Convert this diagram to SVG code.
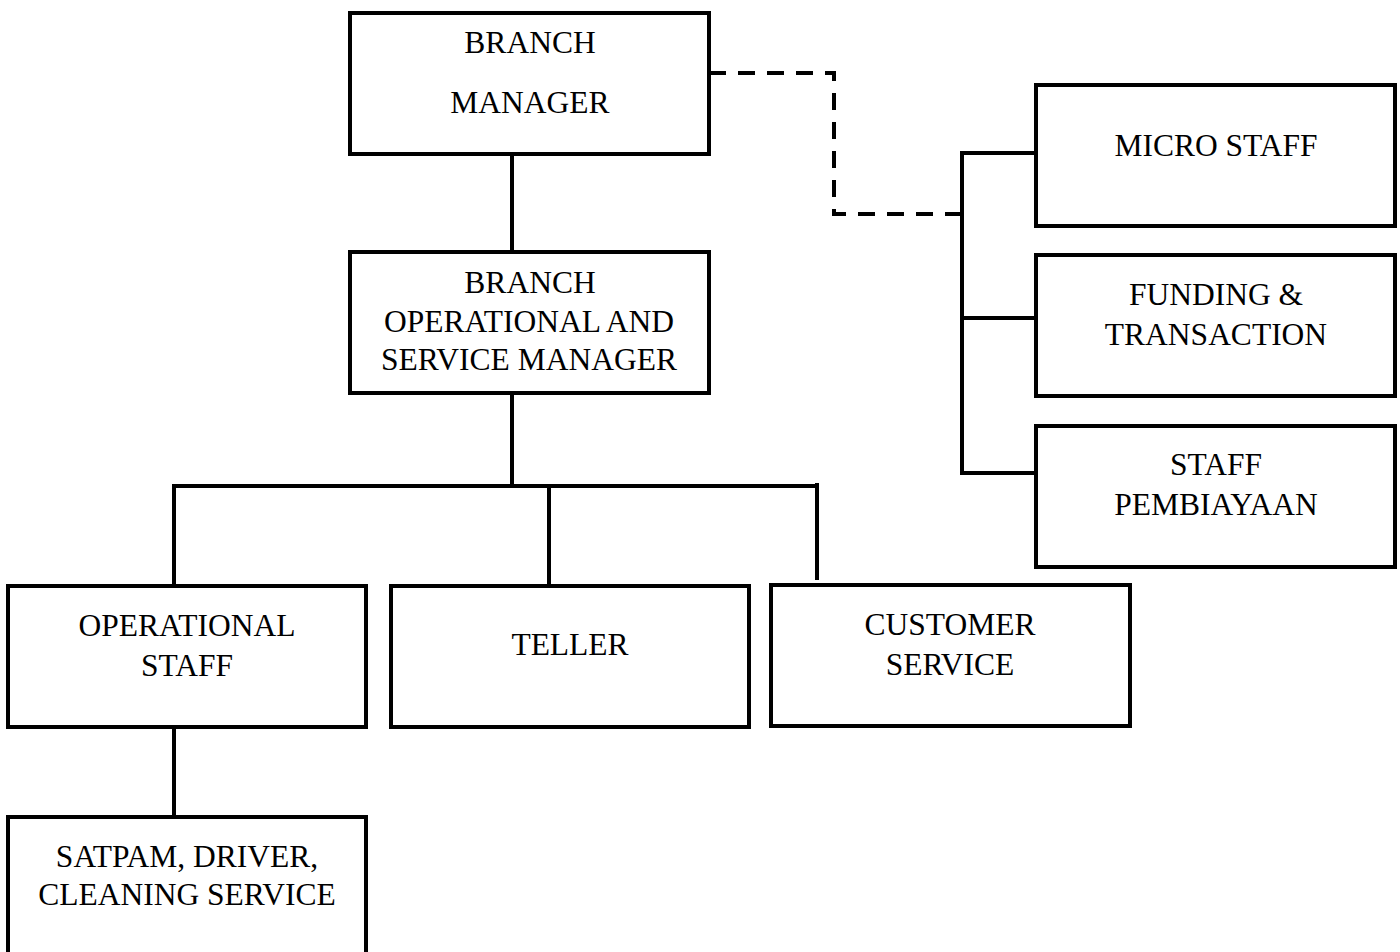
<svg xmlns="http://www.w3.org/2000/svg" width="1400" height="952" viewBox="0 0 1400 952">
<style>
.box{fill:#fff;stroke:#000;stroke-width:4}
.ln{fill:none;stroke:#000;stroke-width:4}
.dash{fill:none;stroke:#000;stroke-width:4;stroke-dasharray:17 12}
text{font-family:"Liberation Serif","Times New Roman",serif;font-size:31.5px;fill:#000;text-anchor:middle}
</style>
<rect width="1400" height="952" fill="#fff"/>
<g id="connectors">
<line class="ln" x1="512" y1="154" x2="512" y2="252"/>
<line class="ln" x1="512" y1="393" x2="512" y2="486"/>
<line class="ln" x1="172" y1="486" x2="819" y2="486"/>
<line class="ln" x1="174" y1="486" x2="174" y2="586"/>
<line class="ln" x1="549" y1="486" x2="549" y2="586"/>
<line class="ln" x1="817" y1="483" x2="817" y2="580"/>
<line class="ln" x1="174" y1="723" x2="174" y2="817"/>
<path class="dash" d="M709 73 H834 V214 H961"/>
<line class="ln" x1="962" y1="151" x2="962" y2="475"/>
<line class="ln" x1="960" y1="153" x2="1036" y2="153"/>
<line class="ln" x1="960" y1="318" x2="1036" y2="318"/>
<line class="ln" x1="960" y1="473" x2="1036" y2="473"/>
</g>
<g id="branch-manager">
<rect class="box" x="350" y="13" width="359" height="141"/>
<text x="530" y="53">BRANCH</text>
<text x="530" y="113">MANAGER</text>
</g>
<g id="branch-operational-service-manager">
<rect class="box" x="350" y="252" width="359" height="141"/>
<text x="530" y="293">BRANCH</text>
<text x="529" y="332">OPERATIONAL AND</text>
<text x="529" y="370">SERVICE MANAGER</text>
</g>
<g id="operational-staff">
<rect class="box" x="8" y="586" width="358" height="141"/>
<text x="187" y="636">OPERATIONAL</text>
<text x="187" y="676">STAFF</text>
</g>
<g id="teller">
<rect class="box" x="391" y="586" width="358" height="141"/>
<text x="570" y="655">TELLER</text>
</g>
<g id="customer-service">
<rect class="box" x="771" y="585" width="359" height="141"/>
<text x="950" y="635">CUSTOMER</text>
<text x="950" y="675">SERVICE</text>
</g>
<g id="satpam-driver-cleaning">
<rect class="box" x="8" y="817" width="358" height="150"/>
<text x="187" y="867">SATPAM, DRIVER,</text>
<text x="187" y="905">CLEANING SERVICE</text>
</g>
<g id="micro-staff">
<rect class="box" x="1036" y="85" width="359" height="141"/>
<text x="1216" y="156">MICRO STAFF</text>
</g>
<g id="funding-transaction">
<rect class="box" x="1036" y="255" width="359" height="141"/>
<text x="1216" y="305">FUNDING &amp;</text>
<text x="1216" y="345">TRANSACTION</text>
</g>
<g id="staff-pembiayaan">
<rect class="box" x="1036" y="426" width="359" height="141"/>
<text x="1216" y="475">STAFF</text>
<text x="1216" y="515">PEMBIAYAAN</text>
</g>
</svg>
